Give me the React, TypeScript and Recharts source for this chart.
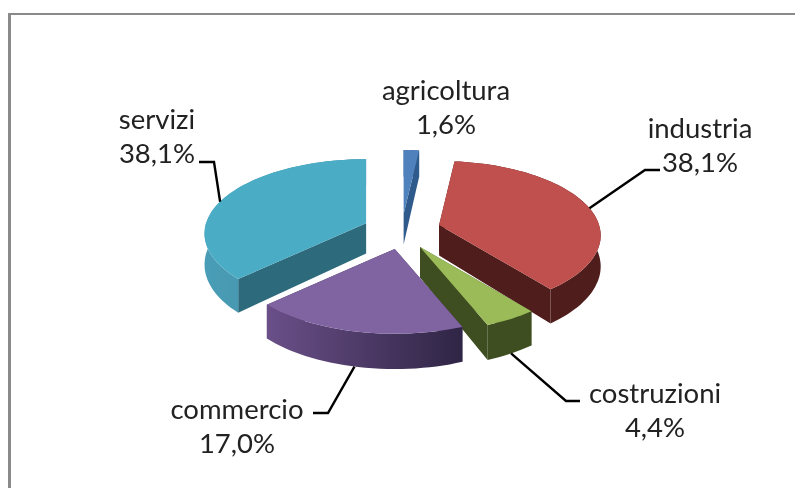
import React from 'react';
import { PieChart, Pie } from 'recharts';

// ---- data
const sectors = ['agricoltura', 'industria', 'costruzioni', 'commercio', 'servizi'];
const shares = [1.6, 38.1, 4.4, 17.0, 38.1];

// ---- styles
const topColors = ['#4f81bd', '#c0504d', '#9bbb59', '#8064a2', '#4bacc6'];
const wallColors = ['#2f5a8c', '#4f1d1b', '#3f4e20', '#3f3058', '#2d6a7c'];
const arcLeftColors = ['#2f5a8c', '#4f1d1b', '#3f4e20', '#6a4f88', '#4a9db6'];
const arcRightColors = ['#2f5a8c', '#4f1d1b', '#3f4e20', '#2f2545', '#3f8ca3'];
const explodeFactors = [0.2, 0.24, 0.24, 0.24, 0.24];

// ---- text block centre (x, y of first line) and elbow of the leader line
const labelBoxes = [
  { x: 446, y: 89, leader: null },
  { x: 700, y: 127, leader: [[645, 170], [660, 170]] },
  { x: 655, y: 392, leader: [[566, 401], [580, 401]] },
  { x: 237, y: 408, leader: [[328, 413], [313, 413]] },
  { x: 157, y: 118, leader: [[214, 162], [199, 162]] },
];

// ---- projection of the tilted pie
const TILT = 0.456;
const PERSP = 0.14;
const EXPLODE_SQUASH = 0.5;
const DEPTH = 0.19;
const BULGE_RIGHT = 2.5;
const BULGE_LEFT = 4.5;

const rad = (d: number) => (d * Math.PI) / 180;

function projector(cx: number, cy: number, R: number, midAngle: number, index: number) {
  const mid = rad(90 - midAngle);
  const E = explodeFactors[index];
  const ox = cx + R * E * Math.sin(mid);
  const oy = cy - R * E * EXPLODE_SQUASH * Math.cos(mid);
  return (clockwiseDeg: number | null, low: boolean): [number, number] => {
    const r = clockwiseDeg === null ? 0 : 1;
    const deg = clockwiseDeg ?? 0;
    const bulge = deg <= 180 ? BULGE_RIGHT : BULGE_LEFT;
    const t = rad(deg + bulge * Math.sin(rad(2 * deg)));
    const u = r * Math.sin(t);
    const v = -r * Math.cos(t);
    const den = 1 - PERSP * v;
    return [
      ox + (R * u) / den,
      oy + (R * TILT * v) / den + (low ? (R * DEPTH) / den : 0),
    ];
  };
}

const path = (pts: [number, number][]) =>
  'M' + pts.map((p) => p[0].toFixed(1) + ' ' + p[1].toFixed(1)).join('L') + 'Z';

function Slice(props: any) {
  const { cx, cy, outerRadius, startAngle, endAngle, midAngle, index } = props;
  const project = projector(cx, cy, outerRadius, midAngle ?? (startAngle + endAngle) / 2, index);
  const from = 90 - startAngle;
  const to = 90 - endAngle;
  const steps = Math.max(2, Math.ceil((to - from) / 2));
  const angles = Array.from({ length: steps + 1 }, (_, i) => from + ((to - from) * i) / steps);
  const topArc = angles.map((a) => project(a, false));
  const lowArc = angles.map((a) => project(a, true));
  const apex = project(null, false);
  const apexLow = project(null, true);
  const gid = 'arc-' + index;
  return (
    <g>
      <defs>
        <linearGradient id={gid} x1="0" y1="0" x2="1" y2="0">
          <stop offset="0" stopColor={arcLeftColors[index]} />
          <stop offset="1" stopColor={arcRightColors[index]} />
        </linearGradient>
      </defs>
      <path d={path([apex, topArc[0], lowArc[0], apexLow])} fill={wallColors[index]} />
      <path d={path([apex, topArc[steps], lowArc[steps], apexLow])} fill={wallColors[index]} />
      <path d={path([...topArc, ...lowArc.slice().reverse()])} fill={`url(#${gid})`} />
      <path d={path([apex, ...topArc])} fill={topColors[index]} />
    </g>
  );
}

function SliceLabel(props: any) {
  const { cx, cy, outerRadius, midAngle, index, value } = props;
  const box = labelBoxes[index];
  const project = projector(cx, cy, outerRadius, midAngle, index);
  const clockwise = 90 - midAngle;
  const front = Math.cos(rad(clockwise)) < 0;
  const anchor = project(clockwise, front);
  const text = value.toFixed(1).replace('.', ',') + '%';
  const style = { fontFamily: 'Lato', fontSize: 27.5, fill: '#222' };
  return (
    <g>
      {box.leader && (
        <polyline
          points={[anchor, ...box.leader].map((p) => p.join(',')).join(' ')}
          fill="none"
          stroke="#000"
          strokeWidth={2.4}
        />
      )}
      <text x={box.x} y={box.y} textAnchor="middle" dominantBaseline="central" {...style}>
        {sectors[index]}
      </text>
      <text x={box.x} y={box.y + 34} textAnchor="middle" dominantBaseline="central" {...style}>
        {text}
      </text>
    </g>
  );
}

const rows = sectors.map((name, i) => ({ name, value: shares[i] }));

export default function App() {
  return (
    <div
      style={{
        position: 'absolute',
        left: 0,
        top: 0,
        width: 795,
        height: 488,
        overflow: 'hidden',
        background: '#fff',
        filter: 'blur(0.6px)',
      }}
    >
      <div
        style={{
          position: 'absolute',
          left: 8,
          top: 13,
          right: 0,
          bottom: 0,
          borderLeft: '3px solid #8a8a8a',
          borderTop: '2px solid #8a8a8a',
        }}
      />
      <div style={{ position: 'absolute', left: 0, top: 0 }}>
        <PieChart width={795} height={488} margin={{ top: 0, right: 0, bottom: 0, left: 0 }}>
          <Pie
            data={rows}
            dataKey="value"
            nameKey="name"
            cx={402}
            cy={230}
            outerRadius={160}
            startAngle={90}
            endAngle={-270}
            stroke="none"
            isAnimationActive={false}
            shape={Slice}
            label={SliceLabel}
            labelLine={false}
          />
        </PieChart>
      </div>
    </div>
  );
}
